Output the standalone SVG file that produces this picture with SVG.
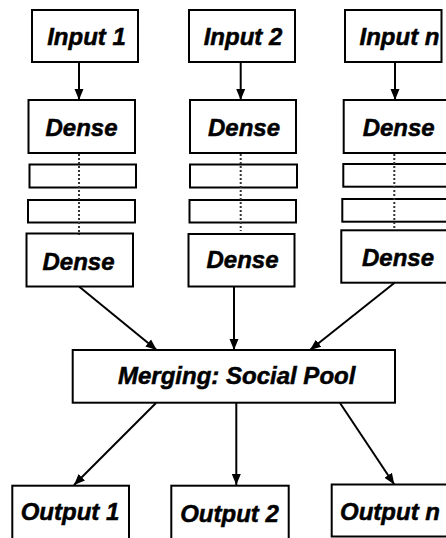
<svg xmlns="http://www.w3.org/2000/svg" width="446" height="538" viewBox="0 0 446 538">
  <style>
    .box { fill: #fff; stroke: #000; stroke-width: 2; }
    .lbl { font-family: "Liberation Sans", Arial, sans-serif; font-weight: bold; font-style: italic; font-size: 24px; fill: #000; stroke: #000; stroke-width: 0.5; text-anchor: middle; }
    .edge { stroke: #000; stroke-width: 2; fill: none; marker-end: url(#arrow); }
    .dots { stroke: #333; stroke-width: 2; stroke-dasharray: 2 2; fill: none; }
  </style>
  <defs>
    <marker id="arrow" markerUnits="userSpaceOnUse" markerWidth="12" markerHeight="12" viewBox="0 0 12 12" refX="11" refY="6" orient="auto">
      <path d="M0,1.5 L11,6 L0,10.5 Z" fill="#000"/>
    </marker>
  </defs>
  <rect width="446" height="538" fill="#fff"/>

  <!-- column 1 -->
  <g id="input1"><rect class="box" x="32" y="10" width="106" height="52"/><text class="lbl" x="86.5" y="45">Input 1</text></g>
  <g id="dense1a"><rect class="box" x="28.5" y="100" width="106.5" height="53"/><text class="lbl" x="81.5" y="135.5">Dense</text></g>
  <g id="layer1b"><rect class="box" x="29.5" y="164.5" width="106.5" height="23"/></g>
  <g id="layer1c"><rect class="box" x="28" y="200" width="107" height="22.5"/></g>
  <g id="dense1d"><rect class="box" x="26.5" y="233.5" width="106.5" height="53"/><text class="lbl" x="78.5" y="270">Dense</text></g>

  <!-- column 2 -->
  <g id="input2"><rect class="box" x="189" y="10" width="106" height="52"/><text class="lbl" x="243" y="45">Input 2</text></g>
  <g id="dense2a"><rect class="box" x="190" y="100" width="106" height="53"/><text class="lbl" x="244" y="135.5">Dense</text></g>
  <g id="layer2b"><rect class="box" x="190" y="164.5" width="107" height="23"/></g>
  <g id="layer2c"><rect class="box" x="189.5" y="200" width="106.5" height="22.5"/></g>
  <g id="dense2d"><rect class="box" x="188.5" y="234" width="106" height="52.5"/><text class="lbl" x="242.5" y="267.5">Dense</text></g>

  <!-- column n -->
  <g id="inputn"><rect class="box" x="345" y="10" width="96.5" height="52"/><text class="lbl" x="399.5" y="45">Input n</text></g>
  <g id="densena"><rect class="box" x="343.7" y="100" width="110" height="53"/><text class="lbl" x="398.7" y="135.5">Dense</text></g>
  <g id="layernb"><rect class="box" x="343.3" y="164" width="110" height="22.7"/></g>
  <g id="layernc"><rect class="box" x="342.3" y="199" width="110" height="22.7"/></g>
  <g id="densend"><rect class="box" x="341.3" y="230.3" width="110" height="52.4"/><text class="lbl" x="398" y="266">Dense</text></g>

  <!-- merge -->
  <g id="merge"><rect class="box" x="72.7" y="350" width="322.3" height="52.7"/><text class="lbl" x="236.7" y="384">Merging: Social Pool</text></g>

  <!-- outputs -->
  <g id="output1"><rect class="box" x="12.3" y="485.7" width="116.7" height="60"/><text class="lbl" x="70" y="520">Output 1</text></g>
  <g id="output2"><rect class="box" x="171.3" y="485.7" width="117.4" height="60"/><text class="lbl" x="229.5" y="521.5">Output 2</text></g>
  <g id="outputn"><rect class="box" x="331.7" y="484.5" width="130" height="52"/><text class="lbl" x="390" y="520">Output n</text></g>

  <g id="connectors">
    <line class="dots" x1="79" y1="154" x2="79" y2="235"/>
    <line class="dots" x1="240.7" y1="154" x2="240.7" y2="231"/>
    <line class="dots" x1="394.3" y1="154" x2="394.3" y2="230"/>
    <line class="edge" x1="79" y1="62" x2="79" y2="100"/>
    <line class="edge" x1="240.7" y1="62" x2="240.7" y2="100"/>
    <line class="edge" x1="395" y1="62" x2="395" y2="100"/>
    <line class="edge" x1="79.3" y1="286.7" x2="156.7" y2="350"/>
    <line class="edge" x1="234" y1="287" x2="234" y2="350"/>
    <line class="edge" x1="394.3" y1="283" x2="310" y2="350"/>
    <line class="edge" x1="156" y1="403" x2="74" y2="485"/>
    <line class="edge" x1="236.3" y1="403" x2="236.3" y2="485"/>
    <line class="edge" x1="340" y1="403" x2="394.3" y2="484.5"/>
  </g>
</svg>
